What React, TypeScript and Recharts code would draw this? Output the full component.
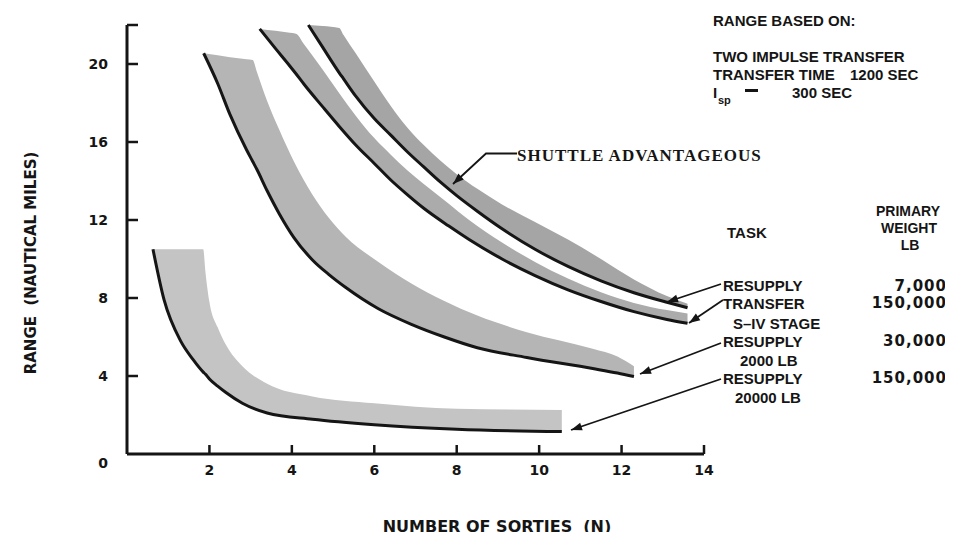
import React from "react";
import { ComposedChart, Area, Line, XAxis, YAxis } from "recharts";

// RESUPPLY 20000 LB (150,000 lb primary)
const resupply20000X = [0.63, 0.9, 1.3, 1.6, 1.85, 1.9, 2.0, 2.2, 2.4, 2.8, 3.4, 4.5, 6.0, 8.0, 10.55];
const resupply20000Low = [10.5, 7.9, 5.8, 4.85, 4.2, 4.1, 3.85, 3.48, 3.15, 2.6, 2.1, 1.78, 1.5, 1.27, 1.15];
const resupply20000High = [10.5, 10.5, 10.5, 10.5, 10.5, 9.4, 7.8, 6.5, 5.6, 4.5, 3.6, 2.95, 2.6, 2.32, 2.26];

// RESUPPLY 2000 LB (30,000 lb primary)
const resupply2000X = [1.86, 2.2, 2.5, 2.9, 3.05, 3.15, 3.4, 3.7, 4.05, 4.5, 4.9, 5.3, 6.1, 6.9, 7.7, 8.5, 9.7, 11.3, 11.9, 12.3];
const resupply2000Low = [20.55, 19.0, 17.4, 15.6, 15.0, 14.6, 13.5, 12.3, 11.1, 9.95, 9.2, 8.55, 7.45, 6.65, 6.0, 5.45, 4.95, 4.38, 4.15, 3.97];
const resupply2000High = [20.55, 20.45, 20.35, 20.25, 20.2, 19.6, 18.1, 16.6, 15.0, 13.3, 12.1, 11.15, 9.85, 8.75, 7.85, 7.1, 6.25, 5.4, 5.0, 4.5];

// TRANSFER S-IV STAGE (150,000 lb primary)
const transferX = [3.22, 3.6, 3.95, 4.1, 4.3, 4.75, 5.15, 5.55, 6.0, 6.4, 6.8, 7.2, 7.8, 8.3, 9.1, 9.9, 10.7, 11.5, 12.3, 13.1, 13.6];
const transferLow = [21.8, 20.8, 19.9, 19.5, 18.95, 17.8, 16.8, 15.85, 14.9, 14.05, 13.3, 12.6, 11.7, 11.0, 10.0, 9.15, 8.42, 7.82, 7.3, 6.9, 6.7];
const transferHigh = [21.8, 21.7, 21.6, 21.55, 21.0, 19.7, 18.5, 17.35, 16.2, 15.35, 14.55, 13.85, 12.85, 12.0, 10.85, 9.85, 9.0, 8.3, 7.75, 7.38, 7.2];

// RESUPPLY (7,000 lb primary)
const resupply7000X = [4.4, 4.75, 5.15, 5.25, 5.55, 6.0, 6.4, 6.8, 7.2, 7.6, 8.0, 8.5, 9.1, 9.9, 10.7, 11.5, 12.3, 13.1, 13.6];
const resupply7000Low = [22.0, 20.85, 19.55, 19.25, 18.35, 17.2, 16.35, 15.5, 14.72, 13.95, 13.25, 12.45, 11.55, 10.5, 9.62, 8.88, 8.27, 7.78, 7.5];
const resupply7000High = [22.0, 21.95, 21.85, 21.5, 20.55, 19.1, 17.85, 16.75, 15.85, 15.05, 14.35, 13.6, 12.8, 11.9, 11.0, 10.0, 8.95, 8.1, 7.7];

const xTicks = [2, 4, 6, 8, 10, 12, 14];
const yTicks = [0, 4, 8, 12, 16, 20, 22];

const toRows = (xs: number[], low: number[], high: number[]) =>
  xs.map((x, i) => ({ x, low: low[i], band: [low[i], high[i]] }));

const bands = [
  { key: "r20000", rows: toRows(resupply20000X, resupply20000Low, resupply20000High), fill: "#c4c4c4" },
  { key: "r2000", rows: toRows(resupply2000X, resupply2000Low, resupply2000High), fill: "#b5b5b5" },
  { key: "transfer", rows: toRows(transferX, transferLow, transferHigh), fill: "#ababab" },
  { key: "r7000", rows: toRows(resupply7000X, resupply7000Low, resupply7000High), fill: "#a5a5a5" },
];

const INK = "#151515";
const tickFont = "'DejaVu Sans', sans-serif";
const labelFont = "'Liberation Sans', Arial, sans-serif";

const XTick = (props: any) => {
  const { x, y, payload } = props;
  return (
    <g>
      <line x1={x} y1={y} x2={x} y2={y - 9} stroke={INK} strokeWidth={2.5} />
      <text x={x} y={y + 21} textAnchor="middle" fontFamily={tickFont} fontWeight="bold" fontSize={14} fill={INK}>
        {payload.value}
      </text>
    </g>
  );
};

const YTick = (props: any) => {
  const { x, y, payload } = props;
  const v = payload.value;
  return (
    <g>
      {v !== 0 && <line x1={x} y1={y} x2={x + 11} y2={y} stroke={INK} strokeWidth={2.5} />}
      {v !== 22 && (
        <text x={x - 19} y={v === 0 ? y + 14 : y + 5} textAnchor="end" fontFamily={tickFont} fontWeight="bold" fontSize={14} fill={INK}>
          {v}
        </text>
      )}
    </g>
  );
};

const Arrow = ({ pts }: { pts: number[][] }) => {
  const [x2, y2] = pts[pts.length - 1];
  const [x1, y1] = pts[pts.length - 2];
  const a = Math.atan2(y2 - y1, x2 - x1);
  const len = 11;
  const w = 4;
  const bx = x2 - len * Math.cos(a);
  const by = y2 - len * Math.sin(a);
  const head = [
    [x2, y2],
    [bx + w * Math.sin(a), by - w * Math.cos(a)],
    [bx - w * Math.sin(a), by + w * Math.cos(a)],
  ];
  return (
    <g>
      <polyline points={pts.map((p) => p.join(",")).join(" ")} fill="none" stroke={INK} strokeWidth={1.8} />
      <polygon points={head.map((p) => p.join(",")).join(" ")} fill={INK} />
    </g>
  );
};

const T = ({ x, y, children, anchor = "start", size = 15 }: any) => (
  <text x={x} y={y} textAnchor={anchor} dominantBaseline="central" fontFamily={labelFont} fontWeight="bold" fontSize={size} fill={INK}>
    {children}
  </text>
);

const W = ({ y, children }: any) => (
  <text x={947} y={y} textAnchor="end" dominantBaseline="central" fontFamily={tickFont} fontWeight="bold" fontSize={15} letterSpacing={1} fill={INK}>
    {children}
  </text>
);

export default function App() {
  return (
    <div style={{ margin: -8, position: "relative", width: 953, height: 540, background: "#fff" }}>
      <ComposedChart width={953} height={540} margin={{ top: 25, right: 249, bottom: 46, left: 67 }}>
        <XAxis
          type="number"
          dataKey="x"
          domain={[0, 14]}
          ticks={xTicks}
          height={40}
          tickSize={0}
          tickMargin={0}
          tickLine={false}
          tick={<XTick />}
          axisLine={{ stroke: INK, strokeWidth: 3 }}
          allowDuplicatedCategory={false}
        />
        <YAxis
          type="number"
          domain={[0, 22]}
          ticks={yTicks}
          width={60}
          tickSize={0}
          tickMargin={0}
          tickLine={false}
          tick={<YTick />}
          axisLine={{ stroke: INK, strokeWidth: 3 }}
        />
        {bands.map((b) => (
          <Area
            key={b.key + "-band"}
            data={b.rows}
            dataKey="band"
            type="monotone"
            stroke="none"
            fill={b.fill}
            fillOpacity={1}
            isAnimationActive={false}
          />
        ))}
        {bands.map((b) => (
          <Line
            key={b.key + "-line"}
            data={b.rows}
            dataKey="low"
            type="monotone"
            stroke={INK}
            strokeWidth={3}
            dot={false}
            activeDot={false}
            isAnimationActive={false}
          />
        ))}
      </ComposedChart>

      <svg width={953} height={540} style={{ position: "absolute", left: 0, top: 0, pointerEvents: "none" }}>
        <text
          transform="translate(31,263) rotate(-90)"
          textAnchor="middle"
          dominantBaseline="central"
          fontFamily={tickFont}
          fontWeight="bold"
          fontSize={15}
          fill={INK}
          style={{ whiteSpace: "pre" }}
        >
          {"RANGE  (NAUTICAL MILES)"}
        </text>
        <text x={497} y={526} textAnchor="middle" dominantBaseline="central" fontFamily={tickFont} fontWeight="bold" fontSize={16} fill={INK} style={{ whiteSpace: "pre" }}>
          {"NUMBER OF SORTIES  (N)"}
        </text>

        <T x={713} y={20}>RANGE BASED ON:</T>
        <T x={713} y={56}>TWO IMPULSE TRANSFER</T>
        <T x={713} y={74}>TRANSFER TIME</T>
        <T x={850} y={74}>1200 SEC</T>
        <T x={713} y={92}>I</T>
        <T x={718} y={100} size={11}>sp</T>
        <rect x={745} y={89} width={13} height={3} fill={INK} />
        <T x={792} y={92}>300 SEC</T>

        <text x={517} y={155} dominantBaseline="central" fontFamily="'Liberation Serif', serif" fontWeight="bold" fontSize={17} letterSpacing={1} fill={INK}>
          SHUTTLE ADVANTAGEOUS
        </text>
        <Arrow pts={[[517, 153.5], [486, 153.5], [453, 184]]} />

        <T x={727} y={232}>TASK</T>
        <T x={908} y={211} anchor="middle" size={14}>PRIMARY</T>
        <T x={909} y={228} anchor="middle" size={14}>WEIGHT</T>
        <T x={910} y={245} anchor="middle" size={14}>LB</T>

        <T x={723} y={285}>RESUPPLY</T>
        <W y={286}>7,000</W>
        <T x={723} y={303}>TRANSFER</T>
        <W y={303}>150,000</W>
        <T x={733} y={323}>S–IV STAGE</T>
        <T x={723} y={341}>RESUPPLY</T>
        <W y={341}>30,000</W>
        <T x={740} y={360}>2000 LB</T>
        <T x={723} y={378}>RESUPPLY</T>
        <W y={378}>150,000</W>
        <T x={735} y={397}>20000 LB</T>

        <Arrow pts={[[721, 284], [667, 302]]} />
        <Arrow pts={[[723, 300], [689, 323]]} />
        <Arrow pts={[[721, 343], [640, 374]]} />
        <Arrow pts={[[721, 379], [571, 430]]} />
      </svg>
    </div>
  );
}
